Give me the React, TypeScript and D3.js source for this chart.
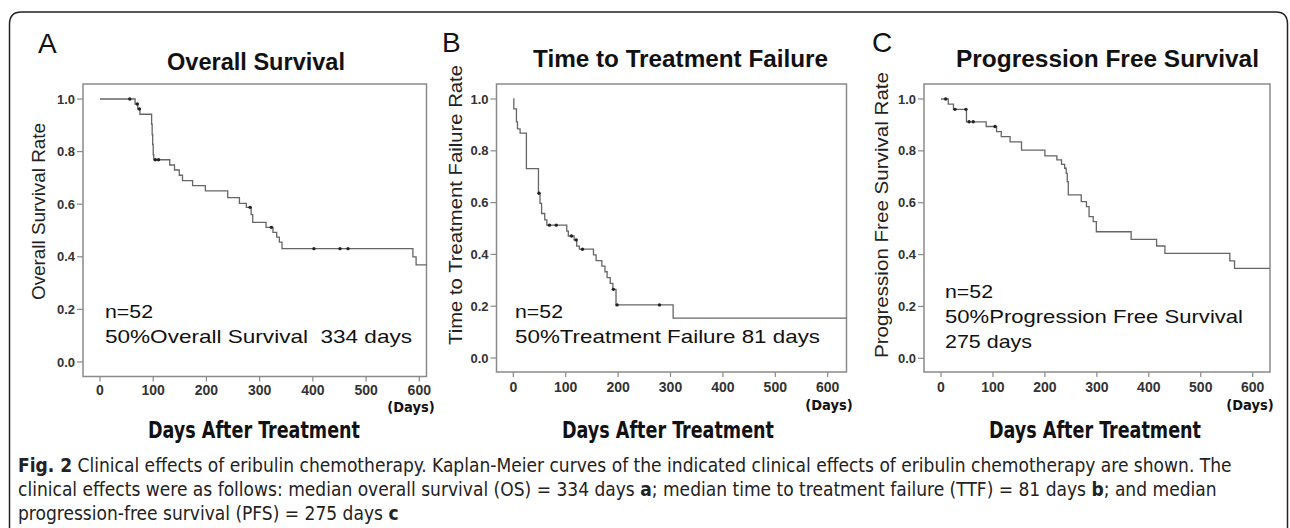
import React from 'react';
import * as d3 from 'd3';

/* ── A: overall survival (step times in days, survival after the step) ── */
const osDays = [0, 66, 71, 75, 97, 98, 99, 100, 101, 131, 140, 149, 155, 174, 198, 240, 262, 275, 284, 287, 312, 325, 332, 337, 342, 588, 594];
const osSurv = [1.0, 0.981, 0.962, 0.942, 0.904, 0.865, 0.827, 0.788, 0.769, 0.749, 0.730, 0.710, 0.690, 0.671, 0.651, 0.625, 0.603, 0.588, 0.560, 0.531, 0.512, 0.493, 0.475, 0.456, 0.431, 0.400, 0.369];
const osCensor = [56, 70, 74, 104, 110, 282, 322, 402, 451, 466];
const osEnd = 614;

/* ── B: time to treatment failure ── */
const ttfDays = [0, 1, 6, 8, 13, 25, 48, 51, 54, 60, 64, 102, 105, 116, 121, 126, 153, 158, 169, 175, 179, 185, 190, 196, 305];
const ttfSurv = [1.0, 0.962, 0.912, 0.885, 0.868, 0.731, 0.636, 0.597, 0.558, 0.533, 0.513, 0.490, 0.471, 0.456, 0.432, 0.420, 0.398, 0.376, 0.355, 0.333, 0.310, 0.288, 0.265, 0.205, 0.154];
const ttfCensor = [49, 69, 82, 111, 120, 132, 191, 198, 279];
const ttfEnd = 636;

/* ── C: progression free survival ── */
const pfsDays = [0, 14, 24, 49, 87, 107, 116, 133, 155, 200, 223, 232, 238, 241, 243, 245, 270, 280, 285, 293, 299, 366, 415, 431, 556, 565];
const pfsSurv = [1.0, 0.980, 0.960, 0.912, 0.894, 0.874, 0.855, 0.835, 0.803, 0.781, 0.765, 0.748, 0.733, 0.713, 0.681, 0.630, 0.604, 0.585, 0.546, 0.527, 0.488, 0.459, 0.433, 0.405, 0.376, 0.347];
const pfsCensor = [9, 27, 48, 54, 62, 104];
const pfsEnd = 633;

const xTicks = [0, 100, 200, 300, 400, 500, 600];
const yTicks = [0, 0.2, 0.4, 0.6, 0.8, 1.0];

const letters = ['A', 'B', 'C'];
const titles = ['Overall Survival', 'Time to Treatment Failure', 'Progression Free Survival'];
const yLabels = ['Overall Survival Rate', 'Time to Treatment Failure Rate', 'Progression Free Survival Rate'];
const notes = [
  ['n=52', '50%Overall Survival  334 days'],
  ['n=52', '50%Treatment Failure 81 days'],
  ['n=52', '50%Progression Free Survival', '275 days']
];

const curves = [
  { days: osDays, surv: osSurv, censor: osCensor, end: osEnd },
  { days: ttfDays, surv: ttfSurv, censor: ttfCensor, end: ttfEnd },
  { days: pfsDays, surv: pfsSurv, censor: pfsCensor, end: pfsEnd }
];

/* layout, px */
const layout = [
  {
    frame: { l: 83, t: 84, r: 426.5, b: 376.5 }, x0: 100, x600: 419.3, y0: 362, y1: 99, tickY: 395,
    letter: [38, 53], title: [256, 70, 178], ylab: [45, 211.5, 177],
    notes: [[105, 318, 48], [105, 343, 307]], daysX: 411, daysY: 412, axisX: 254
  },
  {
    frame: { l: 496.5, t: 84, r: 846.5, b: 372 }, x0: 513.3, x600: 827.7, y0: 358, y1: 99, tickY: 392,
    letter: [442, 52], title: [680.5, 67, 295], ylab: [462, 205, 280],
    notes: [[515, 318, 48], [515, 342.5, 305]], daysX: 829, daysY: 410, axisX: 668
  },
  {
    frame: { l: 924, t: 84, r: 1270, b: 372 }, x0: 941, x600: 1252.7, y0: 358.3, y1: 99, tickY: 392,
    letter: [872, 52], title: [1107.5, 67, 303], ylab: [888, 215, 286],
    notes: [[945, 298, 48], [945, 323, 298], [945, 348, 87]], daysX: 1250, daysY: 410, axisX: 1095
  }
];

const SANS = '"Liberation Sans", Arial, Helvetica, sans-serif';
const NARROW = '"Liberation Sans Narrow", "Arial Narrow", "DejaVu Sans Condensed", sans-serif';
const axisGrey = '#8a8a8a';

function Panel({ i }) {
  const L = layout[i];
  const c = curves[i];
  const x = d3.scaleLinear().domain([0, 600]).range([L.x0, L.x600]);
  const y = d3.scaleLinear().domain([0, 1]).range([L.y0, L.y1]);

  const pts = c.days.map((d, k) => [d, c.surv[k]]);
  pts.push([c.end, c.surv[c.surv.length - 1]]);
  const line = d3.line().x(d => x(d[0])).y(d => y(d[1])).curve(d3.curveStepAfter);

  const survAt = t => c.surv[Math.max(0, d3.bisectRight(c.days, t) - 1)];
  const f = L.frame;

  return (
    <g>
      <text x={L.letter[0]} y={L.letter[1]} fontSize={28} fontFamily={SANS} fill="#111">{letters[i]}</text>
      <text x={L.title[0]} y={L.title[1]} textAnchor="middle" fontSize={23} fontWeight="bold"
        fontFamily={SANS} fill="#111" textLength={L.title[2]} lengthAdjust="spacingAndGlyphs">{titles[i]}</text>
      <text transform={`translate(${L.ylab[0]},${L.ylab[1]}) rotate(-90)`} textAnchor="middle" fontSize={19}
        fontFamily={SANS} fill="#222" textLength={L.ylab[2]} lengthAdjust="spacingAndGlyphs">{yLabels[i]}</text>

      <rect x={f.l} y={f.t} width={f.r - f.l} height={f.b - f.t} fill="#fff" stroke={axisGrey} strokeWidth={1.5} />

      {yTicks.map(t => (
        <g key={t}>
          <line x1={f.l - 6} x2={f.l} y1={y(t)} y2={y(t)} stroke={axisGrey} strokeWidth={1.2} />
          <text x={f.l - 8} y={y(t) + 4.5} textAnchor="end" fontSize={13} fontWeight="bold"
            fontFamily={SANS} fill="#333">{d3.format('.1f')(t)}</text>
        </g>
      ))}
      {xTicks.map(t => (
        <g key={t}>
          <line x1={x(t)} x2={x(t)} y1={f.b} y2={f.b + 5} stroke={axisGrey} strokeWidth={1.2} />
          <text x={x(t)} y={L.tickY} textAnchor="middle" fontSize={14} fontWeight="bold"
            fontFamily={SANS} fill="#333">{t}</text>
        </g>
      ))}

      <path d={line(pts)} fill="none" stroke="#666" strokeWidth={1.3} />
      {c.censor.map(t => (
        <circle key={t} cx={x(t)} cy={y(survAt(t))} r={1.7} fill="#222" />
      ))}

      {notes[i].map((s, k) => (
        <text key={k} x={L.notes[k][0]} y={L.notes[k][1]} fontSize={19} fontFamily={SANS} fill="#111"
          textLength={L.notes[k][2]} lengthAdjust="spacingAndGlyphs" style={{ whiteSpace: 'pre' }}>{s}</text>
      ))}

      <text x={L.daysX} y={L.daysY} textAnchor="middle" fontSize={14.5} fontWeight="bold"
        fontFamily={NARROW} fill="#111">(Days)</text>
      <text x={L.axisX} y={438} textAnchor="middle" fontSize={23} fontWeight="bold" fontFamily={NARROW}
        fill="#111" textLength={212} lengthAdjust="spacingAndGlyphs">Days After Treatment</text>
    </g>
  );
}

export default function App() {
  return (
    <svg width={1290} height={528} style={{ display: 'block', position: 'absolute', left: 0, top: 0, background: '#fff' }}>
      <rect x={0} y={0} width={1290} height={528} fill="#fff" />
      <path d="M9.5,560 L9.5,24 Q9.5,12 21.5,12 L1276,12 Q1287.5,12 1287.5,24 L1287.5,560"
        fill="none" stroke="#222" strokeWidth={1.5} />
      {[0, 1, 2].map(i => <Panel key={i} i={i} />)}

      <g fontFamily={NARROW} fontSize={19} fill="#222">
        <text x={18} y={472}>
          <tspan fontWeight="bold">Fig. 2</tspan> Clinical effects of eribulin chemotherapy. Kaplan-Meier curves of the indicated clinical effects of eribulin chemotherapy are shown. The
        </text>
        <text x={18} y={496}>
          clinical effects were as follows: median overall survival (OS) = 334 days <tspan fontWeight="bold">a</tspan>; median time to treatment failure (TTF) = 81 days <tspan fontWeight="bold">b</tspan>; and median
        </text>
        <text x={18} y={520}>
          progression-free survival (PFS) = 275 days <tspan fontWeight="bold">c</tspan>
        </text>
      </g>
    </svg>
  );
}
